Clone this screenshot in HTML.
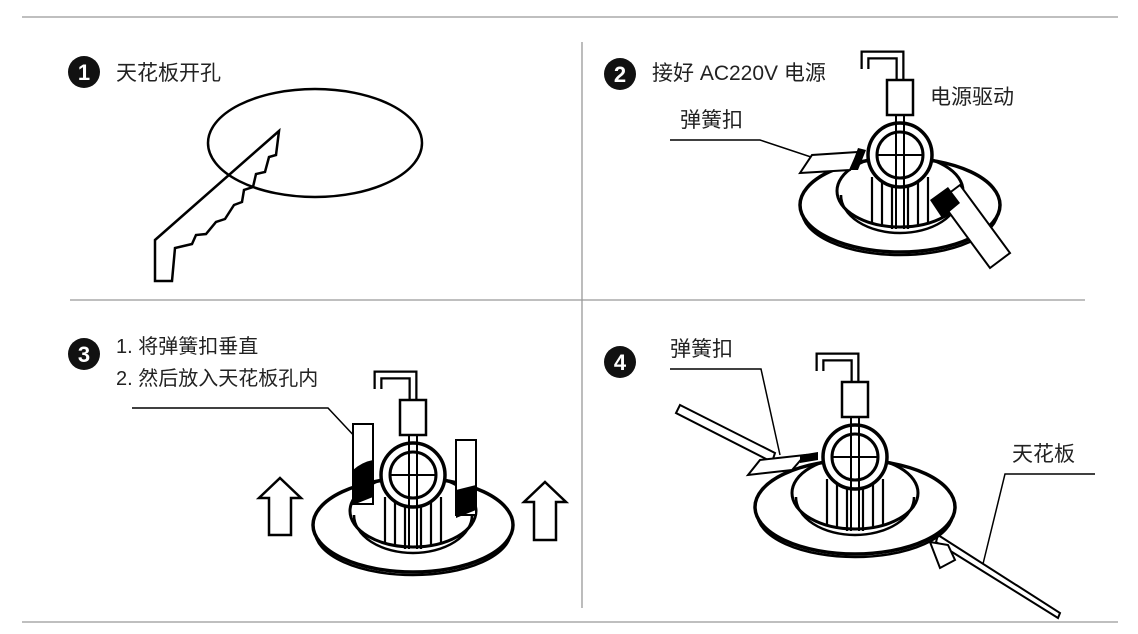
<!DOCTYPE html>
<html><head><meta charset="utf-8"><style>
html,body{margin:0;padding:0;background:#fff;}
svg{display:block}
text{font-family:"Liberation Sans","Noto Sans CJK SC",sans-serif;fill:#222}
</style></head><body>
<svg width="1138" height="634" viewBox="0 0 1138 634" xmlns="http://www.w3.org/2000/svg">
<defs>
<g id="lamp" fill="none" stroke="#000">
  <ellipse cx="0" cy="56" rx="98" ry="44" stroke-width="2.5"/>
  <ellipse cx="0" cy="50" rx="100" ry="47" stroke-width="3.5" fill="#fff"/>
  <ellipse cx="0" cy="36" rx="63" ry="36" stroke-width="3"/>
  <path d="M-59,40 A59,38 0 0 0 59,40" stroke-width="2.5"/>
  <path d="M-28,22 V68 M-18,26 V72 M-8,28 V74 M8,28 V74 M18,26 V72 M28,22 V68" stroke-width="2.2"/>
  <circle cx="0" cy="0" r="32" stroke-width="3.5" fill="#fff"/>
  <circle cx="0" cy="0" r="23" stroke-width="3"/>
  <path d="M-23,0 H23" stroke-width="2"/>
  <path d="M-4,-40 V74 M4,-40 V74" stroke-width="2"/>
  <path d="M0,-75 V-100 H-35 V-86" stroke-width="9" stroke-linejoin="miter"/>
  <path d="M0,-75 V-100 H-35 V-86" stroke="#fff" stroke-width="4.5"/>
  <rect x="-13" y="-75" width="26" height="35" stroke-width="2.5" fill="#fff"/>
</g>
</defs>
<g stroke="#999" stroke-width="1.3">
<line x1="22" y1="17" x2="1118" y2="17"/>
<line x1="22" y1="622" x2="1118" y2="622"/>
<line x1="582" y1="42" x2="582" y2="608"/>
<line x1="70" y1="300" x2="1085" y2="300"/>
</g>
<!-- panel 1 -->
<circle cx="84" cy="72" r="16" fill="#111"/><text x="84" y="80" font-size="22" font-weight="bold" text-anchor="middle" style="fill:#fff">1</text>
<text x="116" y="80" font-size="21">天花板开孔</text>
<ellipse cx="315" cy="143" rx="107" ry="54" fill="none" stroke="#000" stroke-width="2.5"/>
<path d="M279,131 L155,240 L155,281 L172,281 L175,248 L192,244 L196,235 L206,234 L216,222 L225,219 L234,205 L242,202 L244,190 L253,187 L256,174 L265,172 L269,157 L276,155 Z" fill="none" stroke="#000" stroke-width="2.5" stroke-linejoin="miter"/>
<!-- panel 2 -->
<circle cx="620" cy="74" r="16" fill="#111"/><text x="620" y="82" font-size="22" font-weight="bold" text-anchor="middle" style="fill:#fff">2</text>
<text x="652" y="80" font-size="21">接好 AC220V 电源</text>
<text x="930" y="104" font-size="21">电源驱动</text>
<text x="680" y="127" font-size="21">弹簧扣</text>
<path d="M670,140 H760 L820,160" fill="none" stroke="#000" stroke-width="1.5"/>
<use href="#lamp" x="900" y="155"/>
<path d="M800,173 L812,155 L858,152 L850,170 Z" fill="#fff" stroke="#000" stroke-width="2"/>
<path d="M850,170 L858,148 L866,150 L858,170 Z" fill="#000"/>
<path d="M940,200 L960,185 L1010,253 L990,268 Z" fill="#fff" stroke="#000" stroke-width="2"/>
<path d="M930,200 L948,187 L960,203 L942,218 Z" fill="#000"/>
<!-- panel 3 -->
<circle cx="84" cy="354" r="16" fill="#111"/><text x="84" y="362" font-size="22" font-weight="bold" text-anchor="middle" style="fill:#fff">3</text>
<text x="116" y="353" font-size="20">1. 将弹簧扣垂直</text>
<text x="116" y="385" font-size="20">2. 然后放入天花板孔内</text>
<path d="M132,408 H328 L358,440" fill="none" stroke="#000" stroke-width="1.5"/>
<use href="#lamp" x="413" y="475"/>
<rect x="353" y="424" width="20" height="80" fill="#fff" stroke="#000" stroke-width="2"/>
<path d="M353,470 Q362,462 373,460 V497 L353,505 Z" fill="#000"/>
<rect x="456" y="440" width="20" height="75" fill="#fff" stroke="#000" stroke-width="2"/>
<path d="M456,490 L476,485 V510 L456,518 Z" fill="#000"/>
<path d="M280,478 L301,498 H291 V535 H269 V498 H259 Z" fill="#fff" stroke="#000" stroke-width="2.5"/>
<path d="M545,482 L566,502 H556 V540 H534 V502 H524 Z" fill="#fff" stroke="#000" stroke-width="2.5"/>
<!-- panel 4 -->
<circle cx="620" cy="362" r="16" fill="#111"/><text x="620" y="370" font-size="22" font-weight="bold" text-anchor="middle" style="fill:#fff">4</text>
<text x="670" y="356" font-size="21">弹簧扣</text>
<path d="M670,369 H761 L780,455" fill="none" stroke="#000" stroke-width="1.5"/>
<text x="1012" y="461" font-size="21">天花板</text>
<path d="M1095,474 H1005 L982,568" fill="none" stroke="#000" stroke-width="1.5"/>
<path d="M680,405 L775,453 L772,462 L676,413 Z" fill="#fff" stroke="#000" stroke-width="2"/>
<path d="M938,535 L1060,613 L1058,618 L936,542 Z" fill="#fff" stroke="#000" stroke-width="2"/>
<use href="#lamp" x="855" y="457"/>
<path d="M748,475 L760,460 L805,455 L792,470 Z" fill="#fff" stroke="#000" stroke-width="2"/>
<path d="M800,455 L818,452 L818,460 L800,463 Z" fill="#000"/>
<path d="M930,542 L948,545 L955,560 L940,568 Z" fill="#fff" stroke="#000" stroke-width="2"/>
</svg>
</body></html>
